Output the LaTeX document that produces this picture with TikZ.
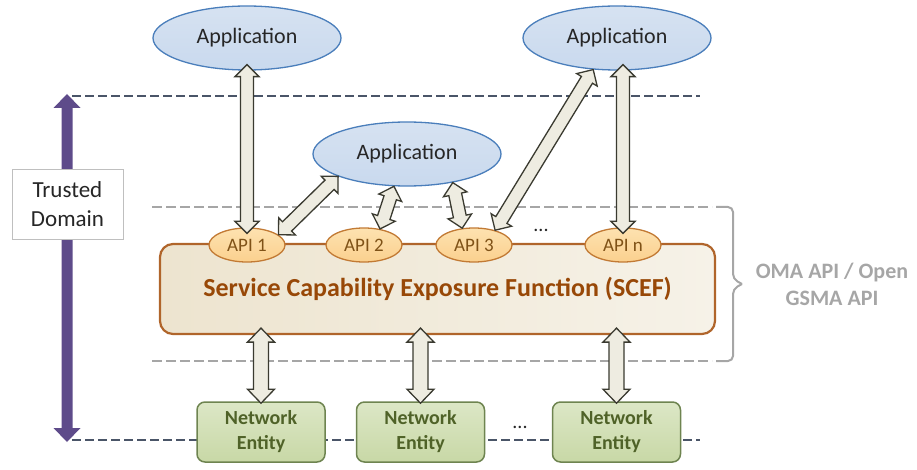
\documentclass[tikz,border=0pt]{standalone}
\usepackage{fontspec}
\setmainfont{Carlito}
\usetikzlibrary{calc,shapes.geometric}
\definecolor{dashdark}{HTML}{4A5568}
\definecolor{dashgrey}{HTML}{A6A6A6}
\definecolor{purp}{HTML}{5E4B8A}
\definecolor{appfill}{HTML}{D6E2F1}
\definecolor{appfill2}{HTML}{C9D9EE}
\definecolor{appline}{HTML}{4A7EBB}
\definecolor{scefline}{HTML}{B0652B}
\definecolor{sceftext}{HTML}{984807}
\definecolor{scefA}{HTML}{EDE4CF}
\definecolor{scefB}{HTML}{F6F2E8}
\definecolor{apifill}{HTML}{FDE2B0}
\definecolor{apifill2}{HTML}{FBD08E}
\definecolor{apiline}{HTML}{C27A34}
\definecolor{apitext}{HTML}{7F5217}
\definecolor{nefill}{HTML}{DCE7C6}
\definecolor{nefill2}{HTML}{C8D8A6}
\definecolor{neline}{HTML}{6E8450}
\definecolor{netext}{HTML}{4F6228}
\definecolor{arrfill}{HTML}{EEECE1}
\definecolor{arrline}{HTML}{3A3A30}
\definecolor{txt}{HTML}{262626}
\def\ahl{12pt}\def\ahw{12pt}\def\asw{6.5pt}
\newcommand\blockarr[3][]{%
  \path[blockarrow,#1] (#2)
  -- ($(#2)!\ahl!(#3)!\ahw!90:(#3)$) -- ($(#2)!\ahl!(#3)!\asw!90:(#3)$)
  -- ($(#3)!\ahl!(#2)!\asw!-90:(#2)$) -- ($(#3)!\ahl!(#2)!\ahw!-90:(#2)$)
  -- (#3)
  -- ($(#3)!\ahl!(#2)!\ahw!90:(#2)$) -- ($(#3)!\ahl!(#2)!\asw!90:(#2)$)
  -- ($(#2)!\ahl!(#3)!\asw!-90:(#3)$) -- ($(#2)!\ahl!(#3)!\ahw!-90:(#3)$)
  -- cycle;}
\tikzset{
  blockarrow/.style={fill=arrfill,draw=arrline,line width=1.3pt,line join=miter},
  purplearr/.style={fill=purp,draw=none},
  darkdash/.style={draw=dashdark,line width=2.6pt,dash pattern=on 9pt off 4pt},
  greydash/.style={draw=dashgrey,line width=2.6pt,dash pattern=on 10pt off 4pt},
  app/.style={ellipse,draw=appline,line width=1.3pt,top color=appfill,bottom color=appfill2,
    minimum width=188pt,minimum height=64pt,inner sep=0pt,text=txt,font=\fontsize{22}{26}\selectfont},
  api/.style={ellipse,draw=apiline,line width=1.3pt,top color=apifill,bottom color=apifill2,
    minimum width=76pt,minimum height=34pt,inner sep=0pt,text=apitext,font=\fontsize{19}{22}\selectfont},
  scefbox/.style={rectangle,rounded corners=13pt,draw=scefline,line width=2.2pt,
    left color=scefA,right color=scefB,minimum width=555pt,minimum height=90pt,inner sep=0pt,
    text=sceftext,font=\bfseries\fontsize{26}{30}\selectfont},
  nebox/.style={rectangle,rounded corners=8pt,draw=neline,line width=1.5pt,
    top color=nefill,bottom color=nefill2,minimum width=128pt,minimum height=60pt,inner sep=0pt,
    align=center,text=netext,font=\bfseries\fontsize{20}{25}\selectfont},
  tdbox/.style={rectangle,draw=black!25,line width=0.8pt,fill=white,minimum width=111pt,
    minimum height=70pt,inner sep=0pt,align=center,text=txt,font=\fontsize{23}{29}\selectfont},
  omatext/.style={align=center,text=dashgrey,font=\bfseries\fontsize{22}{27}\selectfont},
  dots/.style={text=txt,font=\fontsize{20}{22}\selectfont},
}
\begin{document}
\begin{tikzpicture}[x=1pt,y=-1pt]
\useasboundingbox (0,0) rectangle (917,470);
% dashed boundaries
\draw[darkdash] (72,96) -- (700,96);
\draw[darkdash] (72,440) -- (700,440);
\draw[greydash] (152,207) -- (712,207);
\draw[greydash] (152,361) -- (712,361);
% bracket
\draw[dashgrey,line width=2pt,rounded corners=5pt]
  (716,207) -- (733,207) -- (733,279) -- (742,284);
\draw[dashgrey,line width=2pt,rounded corners=5pt]
  (742,284) -- (733,289) -- (733,361) -- (716,361);
\node[omatext] (oma) at (832,284) {OMA API / Open\\GSMA API};
% trusted domain
\coordinate (tdtop) at (67,94);
\coordinate (tdbot) at (67,442);
{\def\ahl{14pt}\def\ahw{13.5pt}\def\asw{5.5pt}\blockarr[purplearr]{tdtop}{tdbot}}
\node[tdbox] (td) at (67.5,204) {Trusted\\Domain};
% SCEF
\node[scefbox] (scef) at (437.5,289) {Service Capability Exposure Function (SCEF)};
% applications
\node[app] (appL) at (247,38) {Application};
\node[app] (appR) at (617,38) {Application};
\node[app] (appM) at (407,154) {Application};
% APIs
\node[api] (api1) at (247,245) {API 1};
\node[api] (api2) at (364,245) {API 2};
\node[api] (api3) at (474,245) {API 3};
\node[api] (apin) at (623,245) {API n};
\node[dots] (d1) at (541,230) {...};
% network entities
\node[nebox] (ne1) at (261,432) {Network\\Entity};
\node[nebox] (ne2) at (420.5,432) {Network\\Entity};
\node[nebox] (ne3) at (616.5,432) {Network\\Entity};
\node[dots] (d2) at (520,427) {...};
% arrows top
\coordinate (aLb) at ($(appL.south)+(0,-6)$);
\coordinate (a1t) at ($(api1.north)+(0,6)$);
\blockarr{aLb}{a1t}
\coordinate (aRb) at ($(apin.north |- appR.south)+(0,-6)$);
\coordinate (ant) at ($(apin.north)+(0,6)$);
\blockarr{aRb}{ant}
\blockarr{appM.-162}{api1.18}
\blockarr{appM.-112}{api2.45}
\blockarr{appM.-32}{api3.125}
\blockarr{appR.-127}{api3.35}
% arrows bottom
{\def\ahl{14pt}\def\ahw{13.5pt}\def\asw{7.5pt}
\coordinate (s1) at ($(ne1.north |- scef.south)+(0,-7)$);
\coordinate (s2) at ($(ne2.north |- scef.south)+(0,-7)$);
\coordinate (s3) at ($(ne3.north |- scef.south)+(0,-7)$);
\coordinate (n1) at ($(ne1.north)+(0,2)$);
\coordinate (n2) at ($(ne2.north)+(0,2)$);
\coordinate (n3) at ($(ne3.north)+(0,2)$);
\blockarr{s1}{n1}
\blockarr{s2}{n2}
\blockarr{s3}{n3}}
\end{tikzpicture}
\end{document}
